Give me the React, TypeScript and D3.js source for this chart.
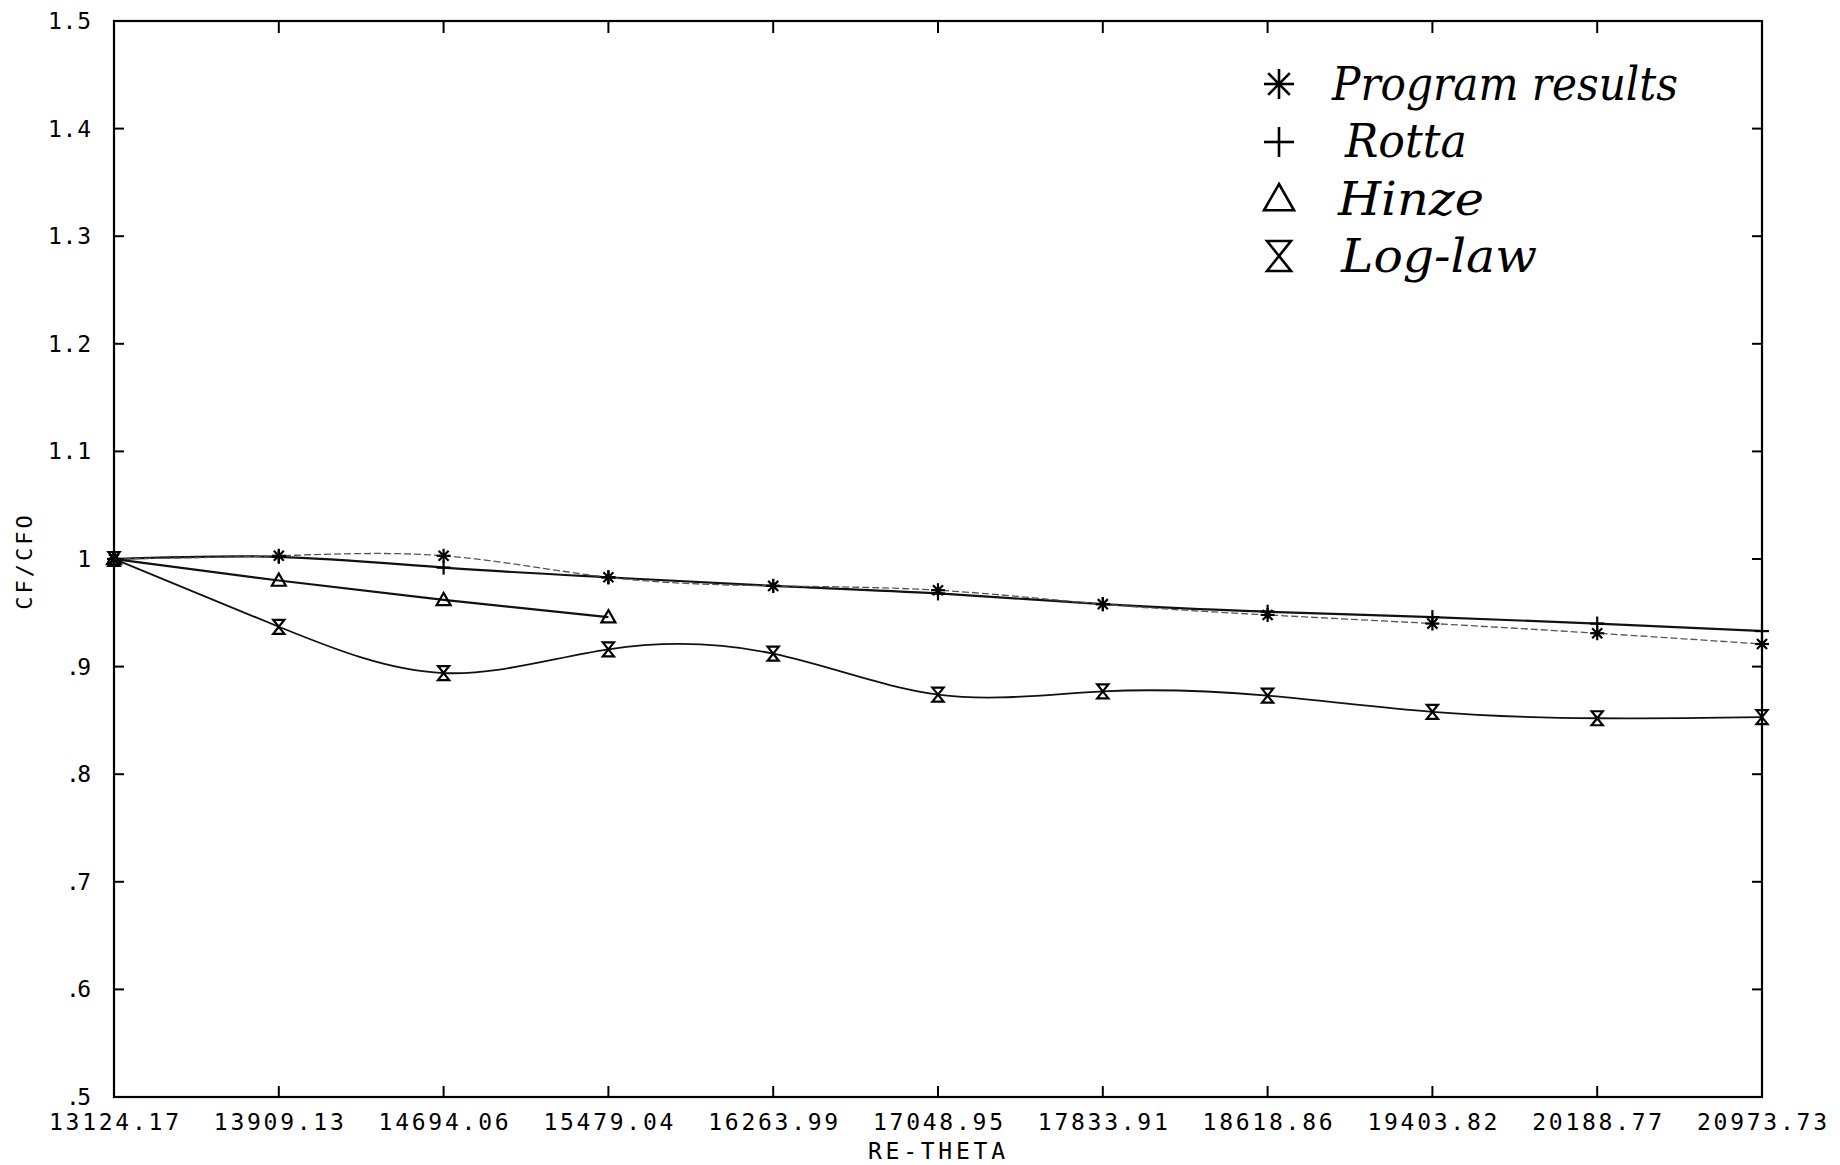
import React from "react";
import * as d3 from "d3";

const reTheta = [13124.17, 13909.13, 14694.06, 15479.04, 16263.99, 17048.95, 17833.91, 18618.86, 19403.82, 20188.77, 20973.73];
const xTickLabels = ["13124.17", "13909.13", "14694.06", "15479.04", "16263.99", "17048.95", "17833.91", "18618.86", "19403.82", "20188.77", "20973.73"];
const yTicks = [0.5, 0.6, 0.7, 0.8, 0.9, 1.0, 1.1, 1.2, 1.3, 1.4, 1.5];
const yTickLabels = [".5", ".6", ".7", ".8", ".9", "1", "1.1", "1.2", "1.3", "1.4", "1.5"];

const programResults = [1.0, 1.003, 1.003, 0.983, 0.975, 0.971, 0.958, 0.948, 0.940, 0.931, 0.921];
const rotta = [1.0, 1.002, 0.992, 0.983, 0.975, 0.968, 0.958, 0.951, 0.946, 0.940, 0.933];
const hinze = [1.0, 0.980, 0.962, 0.946];
const logLaw = [1.0, 0.937, 0.894, 0.916, 0.912, 0.874, 0.877, 0.873, 0.858, 0.852, 0.853];

const legendLabels = ["Program results", "Rotta", "Hinze", "Log-law"];

const W = 1840;
const H = 1165;
const L = 114, R = 1762, T = 21, B = 1097;

const x = d3.scaleLinear().domain([reTheta[0], reTheta[reTheta.length - 1]]).range([L, R]);
const y = d3.scaleLinear().domain([0.5, 1.5]).range([B, T]);

type Pt = [number, number];
const toPts = (vals: number[]): Pt[] => vals.map((v, i) => [reTheta[i], v]);

const lineGen = d3
  .line<Pt>()
  .x((d) => x(d[0]))
  .y((d) => y(d[1]))
  .curve(d3.curveNatural);

function Marker({ kind, cx, cy, s = 7, sw = 2 }: { kind: string; cx: number; cy: number; s?: number; sw?: number }) {
  if (kind === "star") {
    const d = s * 0.72;
    return (
      <g stroke="#000" strokeWidth={sw} transform={`translate(${cx},${cy})`}>
        <line x1={0} y1={-s} x2={0} y2={s} />
        <line x1={-s} y1={0} x2={s} y2={0} />
        <line x1={-d} y1={-d} x2={d} y2={d} />
        <line x1={-d} y1={d} x2={d} y2={-d} />
      </g>
    );
  }
  if (kind === "plus") {
    return (
      <g stroke="#000" strokeWidth={sw} transform={`translate(${cx},${cy})`}>
        <line x1={0} y1={-s} x2={0} y2={s} />
        <line x1={-s} y1={0} x2={s} y2={0} />
      </g>
    );
  }
  if (kind === "tri") {
    return (
      <path
        transform={`translate(${cx},${cy})`}
        d={`M0,${-s} L${s},${s * 0.75} L${-s},${s * 0.75} Z`}
        fill="none"
        stroke="#000"
        strokeWidth={sw}
      />
    );
  }
  return (
    <path
      transform={`translate(${cx},${cy})`}
      d={`M${-s * 0.8},${-s} L${s * 0.8},${-s} L${-s * 0.8},${s} L${s * 0.8},${s} Z`}
      fill="none"
      stroke="#000"
      strokeWidth={sw}
    />
  );
}

export default function App() {
  const font = "'DejaVu Sans Mono', 'Liberation Mono', monospace";
  const series = [
    { vals: rotta, kind: "plus", dash: undefined, width: 2.2, color: "#111" },
    { vals: programResults, kind: "star", dash: "7 3", width: 1.3, color: "#555" },
    { vals: hinze, kind: "tri", dash: undefined, width: 2.2, color: "#111" },
    { vals: logLaw, kind: "hour", dash: undefined, width: 1.8, color: "#111" },
  ];
  const legendKinds = ["star", "plus", "tri", "hour"];
  const legendY = [84, 142, 199, 256];
  const legendBase = [100, 157, 215, 272];
  const legendX = [1332, 1345, 1338, 1341];
  const legendW = [346, 122, 146, 196];

  return (
    <svg width={W} height={H} style={{ position: "absolute", left: 0, top: 0, background: "#fff" }}>
      <rect x={0} y={0} width={W} height={H} fill="#fff" />
      <rect x={L} y={T} width={R - L} height={B - T} fill="none" stroke="#000" strokeWidth={2.2} />
      {reTheta.slice(1, -1).map((v, i) => (
        <g key={"xt" + i} stroke="#000" strokeWidth={2}>
          <line x1={x(v)} x2={x(v)} y1={B} y2={B - 11} />
          <line x1={x(v)} x2={x(v)} y1={T} y2={T + 12} />
        </g>
      ))}
      {yTicks.slice(1, -1).map((v, i) => (
        <g key={"yt" + i} stroke="#000" strokeWidth={2}>
          <line x1={L} x2={L + 10} y1={y(v)} y2={y(v)} />
          <line x1={R} x2={R - 10} y1={y(v)} y2={y(v)} />
        </g>
      ))}
      {reTheta.map((v, i) => (
        <text
          key={"xl" + i}
          x={x(v) - 65}
          y={1130}
          fontFamily={font}
          fontSize={23}
          textLength={130}
          lengthAdjust="spacing"
          fill="#000"
        >
          {xTickLabels[i]}
        </text>
      ))}
      {yTicks.map((v, i) => {
        const lab = yTickLabels[i];
        const len = lab.length === 3 ? 43 : lab.length === 2 ? 25 : 0;
        return (
          <text
            key={"yl" + i}
            x={91 - len}
            y={y(v) + 8}
            fontFamily={font}
            fontSize={23}
            textAnchor={len ? "start" : "end"}
            textLength={len || undefined}
            lengthAdjust="spacing"
            fill="#000"
          >
            {lab}
          </text>
        );
      })}
      <text x={868} y={1159} fontFamily={font} fontSize={23} textLength={137} lengthAdjust="spacing" fill="#000">
        RE-THETA
      </text>
      <text
        transform={`translate(32,${(T + B) / 2 + 2}) rotate(-90)`}
        textAnchor="middle"
        fontFamily={font}
        fontSize={22}
        letterSpacing={3}
        fill="#000"
      >
        CF/CFO
      </text>

      {series.map((s, i) => (
        <path
          key={"ln" + i}
          d={lineGen(toPts(s.vals)) || ""}
          fill="none"
          stroke={s.color}
          strokeWidth={s.width}
          strokeDasharray={s.dash}
        />
      ))}
      {series.map((s, i) =>
        s.vals.map((v, j) => (
          <Marker key={"mk" + i + "-" + j} kind={s.kind} cx={x(reTheta[j])} cy={y(v)} s={7} sw={2.2} />
        ))
      )}

      {legendLabels.map((lab, i) => (
        <g key={"lg" + i}>
          <Marker kind={legendKinds[i]} cx={1279} cy={legendY[i]} s={15} sw={2.6} />
          <text
            x={legendX[i]}
            y={legendBase[i]}
            fontFamily="'DejaVu Serif', 'Liberation Serif', serif"
            fontStyle="italic"
            fontSize={46}
            textLength={legendW[i]}
            lengthAdjust="spacingAndGlyphs"
            fill="#000"
          >
            {lab}
          </text>
        </g>
      ))}
    </svg>
  );
}
